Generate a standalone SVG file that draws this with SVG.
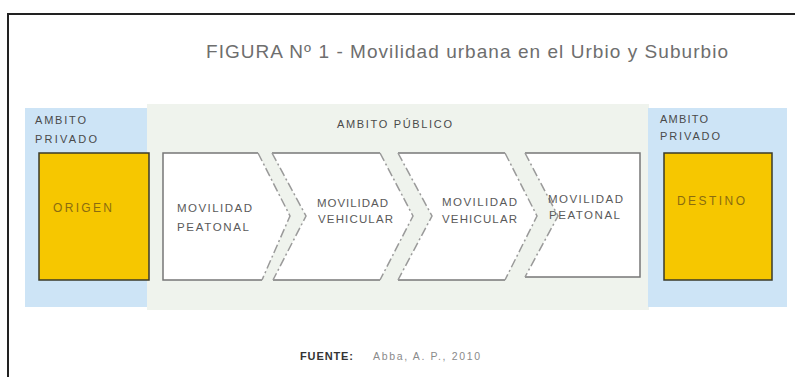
<svg xmlns="http://www.w3.org/2000/svg" width="795" height="377" viewBox="0 0 795 377">
<style>
text{font-family:"Liberation Sans",Arial,sans-serif}
.lbl{font-size:11px;fill:#4a4a4a}
.box{fill:#ffffff;stroke:none}
.edge{stroke:#777;stroke-width:1.5;fill:none}
.diag{stroke:#9a9a9a;stroke-width:1.5;fill:none;stroke-dasharray:9 3 2 3}
.bt{font-size:11.5px;fill:#5a5a5a}
.yel{fill:#f6c700;stroke:#3a3a2a;stroke-width:1.5}
.yt{font-size:12px;fill:#8a6c10}
</style>
<rect x="0" y="0" width="795" height="377" fill="#ffffff"/>
<g id="frame">
<line x1="8" y1="14" x2="795" y2="14" stroke="#222" stroke-width="2"/>
<line x1="8" y1="13" x2="8" y2="377" stroke="#222" stroke-width="2"/>
</g>
<text id="title" x="206" y="58" font-size="19" fill="#6e6e6e" textLength="522" lengthAdjust="spacing">FIGURA Nº 1 - Movilidad urbana en el Urbio y  Suburbio</text>
<g id="ambito-publico">
<rect x="147" y="104" width="502" height="206" fill="#eff3ed"/>
<text class="lbl" x="337" y="128" textLength="115" lengthAdjust="spacing">AMBITO PÚBLICO</text>
</g>
<g id="ambito-privado-izq">
<rect x="25" y="108" width="122" height="199" fill="#cde4f6"/>
<text class="lbl" x="35" y="124" textLength="51" lengthAdjust="spacing">AMBITO</text>
<text class="lbl" x="35" y="143" textLength="62" lengthAdjust="spacing">PRIVADO</text>
</g>
<g id="ambito-privado-der">
<rect x="648" y="108" width="139" height="199" fill="#cde4f6"/>
<text class="lbl" x="660" y="123" textLength="48" lengthAdjust="spacing">AMBITO</text>
<text class="lbl" x="660" y="140" textLength="60" lengthAdjust="spacing">PRIVADO</text>
</g>
<g id="origen">
<rect class="yel" x="39" y="153" width="110" height="127"/>
<text class="yt" x="53" y="212" textLength="59" lengthAdjust="spacing">ORIGEN</text>
</g>
<g id="destino">
<rect class="yel" x="664" y="153" width="108" height="127"/>
<text class="yt" x="677" y="205" textLength="68" lengthAdjust="spacing">DESTINO</text>
</g>
<g id="movilidad-peatonal-1">
<path class="box" d="M163,153 H258 L290,216 L262,280 H163 Z"/>
<path class="edge" d="M258,153 H163 V280 H262"/>
<path class="diag" d="M258,153 L290,216 L262,280"/>
<text class="bt" x="177" y="212" textLength="75" lengthAdjust="spacing">MOVILIDAD</text>
<text class="bt" x="177" y="231" textLength="72" lengthAdjust="spacing">PEATONAL</text>
</g>
<g id="movilidad-vehicular-1">
<path class="box" d="M272,153 H380 L413,216 L380,280 H273 L306,216 Z"/>
<path class="edge" d="M272,153 H380"/>
<path class="edge" d="M273,280 H380"/>
<path class="diag" d="M272,153 L306,216 L273,280"/>
<path class="diag" d="M380,153 L413,216 L380,280"/>
<text class="bt" x="317" y="207" textLength="71" lengthAdjust="spacing">MOVILIDAD</text>
<text class="bt" x="318" y="223" textLength="75" lengthAdjust="spacing">VEHICULAR</text>
</g>
<g id="movilidad-vehicular-2">
<path class="box" d="M398,153 H505 L537,216 L505,280 H398 L432,216 Z"/>
<path class="edge" d="M398,153 H505"/>
<path class="edge" d="M398,280 H505"/>
<path class="diag" d="M398,153 L432,216 L398,280"/>
<path class="diag" d="M505,153 L537,216 L505,280"/>
<text class="bt" x="442" y="206" textLength="75" lengthAdjust="spacing">MOVILIDAD</text>
<text class="bt" x="442" y="223" textLength="75" lengthAdjust="spacing">VEHICULAR</text>
</g>
<g id="movilidad-peatonal-2">
<path class="box" d="M525,153 H640 V277 H525 L558,216 Z"/>
<path class="edge" d="M525,153 H640 V277 H525"/>
<path class="diag" d="M525,153 L558,216 L525,277"/>
<text class="bt" x="548" y="203" textLength="75" lengthAdjust="spacing">MOVILIDAD</text>
<text class="bt" x="549" y="219" textLength="71" lengthAdjust="spacing">PEATONAL</text>
</g>
<g id="connectors"></g>
<g id="fuente">
<text x="300" y="360" font-size="11" font-weight="bold" fill="#333" textLength="53" lengthAdjust="spacing">FUENTE:</text>
<text x="373" y="360" font-size="10.5" fill="#8a8a8a" textLength="107" lengthAdjust="spacing">Abba, A. P., 2010</text>
</g>
</svg>
